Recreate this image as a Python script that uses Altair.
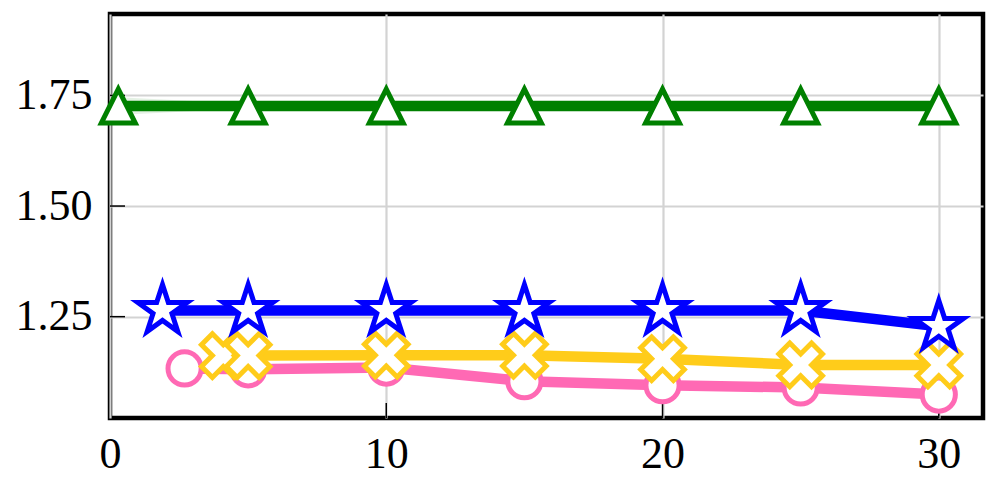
import altair as alt
import pandas as pd

# ---- data ----
x_pink = [2.7, 5, 10, 15, 20, 25, 30]
y_pink = [1.133, 1.131, 1.135, 1.104, 1.095, 1.090, 1.074]
e_pink = [0.006, 0.006, 0.008, 0.008, 0.006, 0.006, 0.006]

x_yellow = [4.1, 5, 10, 15, 20, 25, 30]
y_yellow = [1.162, 1.162, 1.163, 1.163, 1.155, 1.141, 1.141]
e_yellow = [0.006, 0.006, 0.006, 0.006, 0.008, 0.006, 0.006]

x_blue = [1.9, 5, 10, 15, 20, 25, 30]
y_blue = [1.264, 1.264, 1.264, 1.264, 1.264, 1.264, 1.228]
e_blue = [0.006, 0.006, 0.006, 0.006, 0.006, 0.008, 0.012]

x_green = [0.3, 5, 10, 15, 20, 25, 30]
y_green = [1.726, 1.726, 1.726, 1.726, 1.726, 1.726, 1.726]
e_green = [0.02, 0.005, 0.004, 0.004, 0.004, 0.004, 0.004]

x_ticks = [10, 20, 30]
y_ticks = [1.25, 1.50, 1.75]

# ---- styling ----
X_DOMAIN = [0, 31.6]
Y_DOMAIN = [1.021, 1.934]
W, H = 873, 404
FONT = "Liberation Serif"

STAR = ("M 0 -1 L 0.2245 -0.309 L 0.951 -0.309 L 0.3633 0.118 L 0.5878 0.809 "
        "L 0 0.382 L -0.5878 0.809 L -0.3633 0.118 L -0.951 -0.309 L -0.2245 -0.309 Z")
XSHAPE = ("M -0.5 -1 L 0 -0.5 L 0.5 -1 L 1 -0.5 L 0.5 0 L 1 0.5 L 0.5 1 L 0 0.5 "
          "L -0.5 1 L -1 0.5 L -0.5 0 L -1 -0.5 Z")
TRI = "M 0 -1 L 1 1 L -1 1 Z"

series = [
    (x_pink, y_pink, e_pink, "#FF69B4", "circle", 1100),
    (x_yellow, y_yellow, e_yellow, "#FFCC1A", XSHAPE, 1900),
    (x_blue, y_blue, e_blue, "#0000FF", STAR, 2700),
    (x_green, y_green, e_green, "#008000", TRI, 1150),
]

xs = alt.Scale(domain=X_DOMAIN, nice=False, zero=False)
ys = alt.Scale(domain=Y_DOMAIN, nice=False, zero=False)

x_axis = alt.Axis(values=[0, 10, 20, 30], grid=True, gridColor="#d3d3d3", gridWidth=2.2,
                  ticks=False, domain=False, labelFontSize=44, labelFont=FONT,
                  labelColor="black", labelPadding=14, labelFlush=False, title=None)
y_axis = alt.Axis(values=y_ticks, grid=True, gridColor="#d3d3d3", gridWidth=2.2,
                  ticks=False, domain=False, labelFontSize=44, labelFont=FONT,
                  labelColor="black", labelPadding=18, format=".2f", title=None)

layers = []
for xv, yv, ev, col, shp, size in series:
    df = pd.DataFrame({"x": xv, "y": yv,
                       "lo": [a - b for a, b in zip(yv, ev)],
                       "hi": [a + b for a, b in zip(yv, ev)]})
    base = alt.Chart(df)
    band = base.mark_area(color=col, opacity=0.1).encode(
        x=alt.X("x:Q", scale=xs, axis=x_axis),
        y=alt.Y("lo:Q", scale=ys, axis=y_axis),
        y2="hi:Q",
    )
    line = base.mark_line(color=col, strokeWidth=10.5).encode(
        x=alt.X("x:Q", scale=xs, axis=x_axis),
        y=alt.Y("y:Q", scale=ys, axis=y_axis),
    )
    pts = base.mark_point(shape=shp, size=size, filled=True, fill="white",
                          stroke=col, strokeWidth=5, opacity=1,
                          strokeJoin="miter").encode(
        x=alt.X("x:Q", scale=xs, axis=x_axis),
        y=alt.Y("y:Q", scale=ys, axis=y_axis),
    )
    layers += [band, line, pts]

xt = alt.Chart(pd.DataFrame({"v": x_ticks})).mark_rule(color="black", strokeWidth=1.5).encode(
    x=alt.X("v:Q", scale=xs, axis=x_axis),
    y=alt.value(H), y2=alt.value(H - 15),
)
yt = alt.Chart(pd.DataFrame({"v": y_ticks})).mark_rule(color="black", strokeWidth=1.5).encode(
    y=alt.Y("v:Q", scale=ys, axis=y_axis),
    x=alt.value(0), x2=alt.value(15),
)

chart = alt.layer(xt, yt, *layers).properties(
    width=W, height=H,
    autosize=alt.AutoSizeParams(type="none"),
    padding={"left": 102, "top": 6, "right": 6, "bottom": 72},
).configure_view(stroke="black", strokeWidth=4.5).configure_axis(labelFont=FONT)

chart.save("out.html", embed_options={"renderer": "svg", "actions": False})
